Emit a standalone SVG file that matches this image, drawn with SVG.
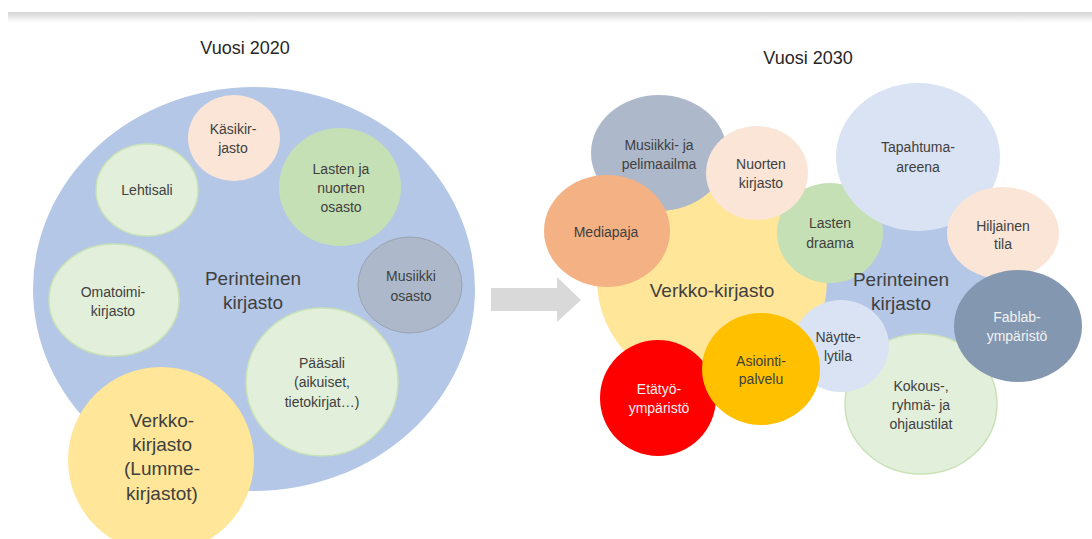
<svg xmlns="http://www.w3.org/2000/svg" width="1092" height="539" viewBox="0 0 1092 539">
  <defs>
    <linearGradient id="topShade" x1="0" y1="0" x2="0" y2="1">
      <stop offset="0" stop-color="#d6d6d6"/>
      <stop offset="1" stop-color="#ffffff"/>
    </linearGradient>
    <style>
      text { font-family: "Liberation Sans", Arial, sans-serif; fill: #404040; text-anchor: middle; }
      .title { font-size: 18px; fill: #262626; }
      .lbl { font-size: 14px; }
      .big { font-size: 19px; }
      .light { fill: #f2f2f2; }
      .blue { fill: #b4c7e7; }
      .paleblue { fill: #dae3f3; }
      .peach { fill: #fbe5d6; }
      .palegreen { fill: #e2efda; stroke: #c9e2b8; stroke-width: 1.5; }
      .green { fill: #c5e0b4; }
      .yellow { fill: #ffe699; }
      .grey { fill: #adb9ca; }
      .greyline { stroke: #9aa3ad; stroke-width: 1; }
    </style>
  </defs>

  <rect width="1092" height="539" fill="#ffffff"/>
  <!-- header band shadow -->
  <rect x="8" y="12" width="1084" height="11" fill="url(#topShade)"/>

  <!-- titles -->
  <text class="title" x="245" y="54">Vuosi 2020</text>
  <text class="title" x="808" y="64">Vuosi 2030</text>

  <!-- ===== 2020 ===== -->
  <g id="perinteinen-2020">
    <ellipse class="blue" cx="254" cy="289" rx="221" ry="202"/>
    <text class="big" x="253" y="285">Perinteinen</text>
    <text class="big" x="253" y="309">kirjasto</text>
  </g>
  <g id="kasikirjasto">
    <ellipse class="peach" cx="234" cy="138" rx="46" ry="43"/>
    <text class="lbl" x="233" y="134">Käsikir-</text>
    <text class="lbl" x="233" y="153">jasto</text>
  </g>
  <g id="lehtisali">
    <ellipse class="palegreen" cx="147" cy="190" rx="51" ry="46"/>
    <text class="lbl" x="147" y="195">Lehtisali</text>
  </g>
  <g id="lasten-nuorten-osasto">
    <ellipse class="green" cx="340" cy="187" rx="61" ry="59"/>
    <text class="lbl" x="341" y="174">Lasten ja</text>
    <text class="lbl" x="341" y="193">nuorten</text>
    <text class="lbl" x="341" y="212">osasto</text>
  </g>
  <g id="omatoimikirjasto">
    <ellipse class="palegreen" cx="114" cy="300" rx="65" ry="56"/>
    <text class="lbl" x="113" y="297">Omatoimi-</text>
    <text class="lbl" x="113" y="316">kirjasto</text>
  </g>
  <g id="musiikkiosasto">
    <ellipse class="grey greyline" cx="410" cy="285" rx="52" ry="48"/>
    <text class="lbl" x="411" y="281">Musiikki</text>
    <text class="lbl" x="411" y="301">osasto</text>
  </g>
  <g id="paasali">
    <ellipse class="palegreen" cx="322" cy="382" rx="76" ry="74"/>
    <text class="lbl" x="322" y="368">Pääsali</text>
    <text class="lbl" x="322" y="387">(aikuiset,</text>
    <text class="lbl" x="322" y="407">tietokirjat…)</text>
  </g>
  <g id="verkkokirjasto-2020">
    <ellipse class="yellow" cx="161" cy="460" rx="93" ry="93"/>
    <text class="big" x="162" y="427">Verkko-</text>
    <text class="big" x="162" y="451">kirjasto</text>
    <text class="big" x="162" y="475">(Lumme-</text>
    <text class="big" x="162" y="500">kirjastot)</text>
  </g>

  <!-- ===== transition arrow ===== -->
  <g id="connectors">
    <polygon points="491,288 557,288 557,277 581,300 557,322 557,311 491,311" fill="#d9d9d9"/>
  </g>

  <!-- ===== 2030 ===== -->
  <g id="perinteinen-2030">
    <ellipse class="blue" cx="910" cy="290" rx="95" ry="85"/>
  </g>
  <g id="verkkokirjasto-2030">
    <ellipse class="yellow" cx="712" cy="280" rx="115" ry="110"/>
    <text class="big" x="712" y="297">Verkko-kirjasto</text>
  </g>
  <g id="musiikki-pelimaailma">
    <ellipse class="grey" cx="659" cy="153" rx="68" ry="58"/>
    <text class="lbl" x="659" y="150">Musiikki- ja</text>
    <text class="lbl" x="659" y="169">pelimaailma</text>
  </g>
  <g id="mediapaja">
    <ellipse cx="607" cy="231" rx="63" ry="56" fill="#f4b183"/>
    <text class="lbl" x="606" y="237">Mediapaja</text>
  </g>
  <g id="lasten-draama">
    <ellipse class="green" cx="830" cy="233" rx="53" ry="50"/>
    <text class="lbl" x="830" y="228">Lasten</text>
    <text class="lbl" x="830" y="248">draama</text>
  </g>
  <g id="tapahtuma-areena">
    <ellipse class="paleblue" cx="918" cy="157" rx="82" ry="74"/>
    <text class="lbl" x="918" y="152">Tapahtuma-</text>
    <text class="lbl" x="918" y="172">areena</text>
  </g>
  <g id="nuorten-kirjasto">
    <ellipse class="peach" cx="757" cy="173" rx="51" ry="47"/>
    <text class="lbl" x="761" y="169">Nuorten</text>
    <text class="lbl" x="761" y="188">kirjasto</text>
  </g>
  <g id="perinteinen-2030-label">
    <text class="big" x="901" y="286">Perinteinen</text>
    <text class="big" x="901" y="310">kirjasto</text>
  </g>
  <g id="hiljainen-tila">
    <ellipse class="peach" cx="1003" cy="233" rx="56" ry="46"/>
    <text class="lbl" x="1003" y="231">Hiljainen</text>
    <text class="lbl" x="1003" y="249">tila</text>
  </g>
  <g id="kokoustilat">
    <ellipse class="palegreen" cx="921" cy="404" rx="76" ry="70"/>
    <text class="lbl" x="921" y="391">Kokous-,</text>
    <text class="lbl" x="921" y="410">ryhmä- ja</text>
    <text class="lbl" x="921" y="429">ohjaustilat</text>
  </g>
  <g id="fablab">
    <ellipse cx="1018" cy="326" rx="64" ry="56" fill="#8497b0"/>
    <text class="lbl light" x="1017" y="322">Fablab-</text>
    <text class="lbl light" x="1017" y="341">ympäristö</text>
  </g>
  <g id="nayttelytila">
    <ellipse class="paleblue" cx="841" cy="346" rx="48" ry="46"/>
    <text class="lbl" x="838" y="342">Näytte-</text>
    <text class="lbl" x="838" y="361">lytila</text>
  </g>
  <g id="etatyoymparisto">
    <ellipse cx="658" cy="398" rx="58" ry="58" fill="#ff0000"/>
    <text class="lbl light" x="659" y="394">Etätyö-</text>
    <text class="lbl light" x="659" y="413">ympäristö</text>
  </g>
  <g id="asiointipalvelu">
    <ellipse cx="761" cy="369" rx="59" ry="56" fill="#ffc000"/>
    <text class="lbl" x="761" y="366">Asiointi-</text>
    <text class="lbl" x="761" y="384">palvelu</text>
  </g>
</svg>
